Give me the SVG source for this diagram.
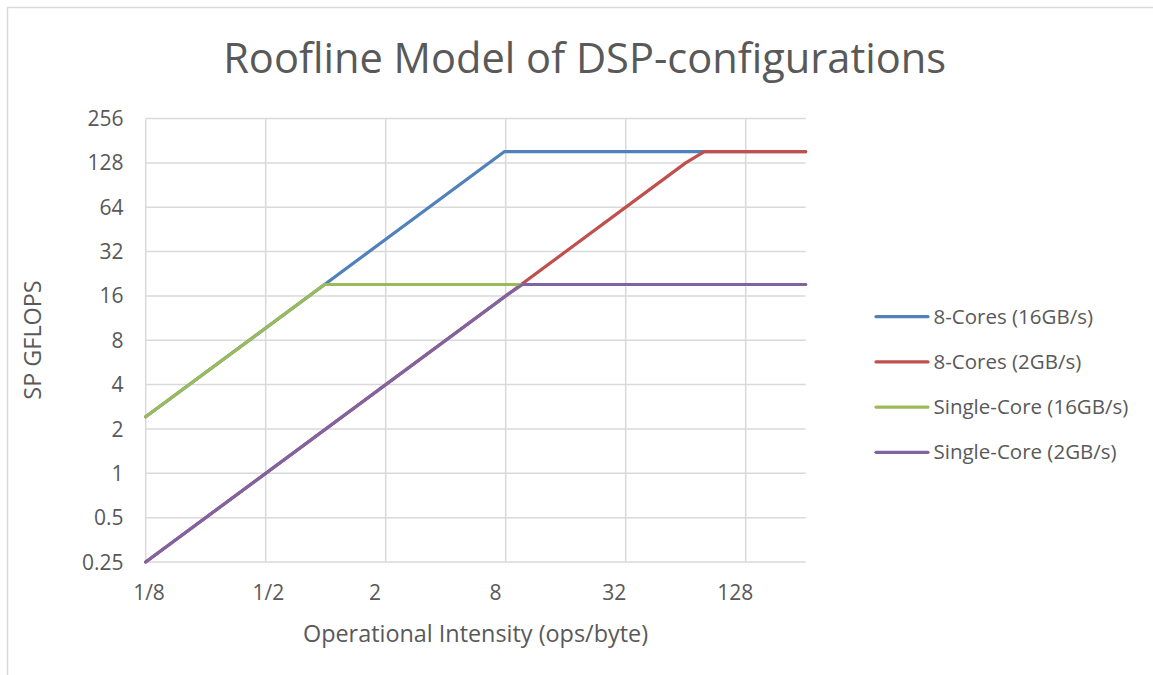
<svg xmlns="http://www.w3.org/2000/svg" width="1153" height="675" viewBox="0 0 1153 675">
<style>
.t{font-family:"Open Sans","Liberation Sans",sans-serif;fill:#595959}
.grid{stroke:#D9D9D9;stroke-width:1.5;fill:none}
.s{fill:none;stroke-width:3.2;stroke-linejoin:round;stroke-linecap:round}
.yl{font-size:21px;text-anchor:end}
.xl{font-size:21px;text-anchor:middle}
.lg{font-size:20.5px}
</style>
<rect x="0" y="0" width="1153" height="675" fill="#FFFFFF"/>
<rect x="7.5" y="7.5" width="1170" height="700" fill="#FFFFFF" stroke="#D9D9D9" stroke-width="1.5"/>
<text class="t" x="584.7" y="73.3" font-size="41.6" text-anchor="middle">Roofline Model of DSP-configurations</text>
<g id="gridlines">
<path class="grid" d="M145.7 118.5H805.7M145.7 162.9H805.7M145.7 207.2H805.7M145.7 251.6H805.7M145.7 295.9H805.7M145.7 340.3H805.7M145.7 384.6H805.7M145.7 429H805.7M145.7 473.3H805.7M145.7 517.7H805.7"/>
<path class="grid" d="M265.7 118.5V562M385.7 118.5V562M505.7 118.5V562M625.7 118.5V562M745.7 118.5V562"/>
<path class="grid" d="M145.7 118.5V562H805.7"/>
</g>
<g id="y-axis">
<text class="t yl" x="123.5" y="126">256</text>
<text class="t yl" x="123.5" y="170.4">128</text>
<text class="t yl" x="123.5" y="214.7">64</text>
<text class="t yl" x="123.5" y="259.1">32</text>
<text class="t yl" x="123.5" y="303.4">16</text>
<text class="t yl" x="123.5" y="347.8">8</text>
<text class="t yl" x="123.5" y="392.1">4</text>
<text class="t yl" x="123.5" y="436.5">2</text>
<text class="t yl" x="123.5" y="480.8">1</text>
<text class="t yl" x="123.5" y="525.2">0.5</text>
<text class="t yl" x="123.5" y="569.5">0.25</text>
<text class="t" x="41" y="340" font-size="23.4" text-anchor="middle" transform="rotate(-90 41 340)">SP GFLOPS</text>
</g>
<g id="x-axis">
<text class="t xl" x="149" y="600">1/8</text>
<text class="t xl" x="268.3" y="600">1/2</text>
<text class="t xl" x="375" y="600">2</text>
<text class="t xl" x="495.5" y="600">8</text>
<text class="t xl" x="614.3" y="600">32</text>
<text class="t xl" x="735.3" y="600">128</text>
<text class="t" x="475.5" y="641.7" font-size="23.4" text-anchor="middle">Operational Intensity (ops/byte)</text>
</g>
<g id="connectors">
<polyline id="s-8c16" class="s" stroke="#4F81BD" points="145.7,416.7 504.2,151.7 805.7,151.7"/>
<polyline id="s-8c2" class="s" stroke="#C0504D" points="145.7,562 685.7,162.9 704.3,151.7 805.7,151.7"/>
<polyline id="s-1c16" class="s" stroke="#9BBB59" points="145.7,416.7 324.5,284.5 805.7,284.5"/>
<polyline id="s-1c2" class="s" stroke="#8064A2" points="145.7,562 505.7,296 522.5,284.5 805.7,284.5"/>
</g>
<g id="legend">
<g id="leg-8c16"><line class="s" stroke="#4F81BD" x1="876" y1="316.7" x2="928" y2="316.7"/><text class="t lg" x="933.5" y="323.8">8-Cores (16GB/s)</text></g>
<g id="leg-8c2"><line class="s" stroke="#C0504D" x1="876" y1="361.9" x2="928" y2="361.9"/><text class="t lg" x="933.5" y="369">8-Cores (2GB/s)</text></g>
<g id="leg-1c16"><line class="s" stroke="#9BBB59" x1="876" y1="407.1" x2="928" y2="407.1"/><text class="t lg" x="933.5" y="414.2">Single-Core (16GB/s)</text></g>
<g id="leg-1c2"><line class="s" stroke="#8064A2" x1="876" y1="452.3" x2="928" y2="452.3"/><text class="t lg" x="933.5" y="459.4">Single-Core (2GB/s)</text></g>
</g>
</svg>
